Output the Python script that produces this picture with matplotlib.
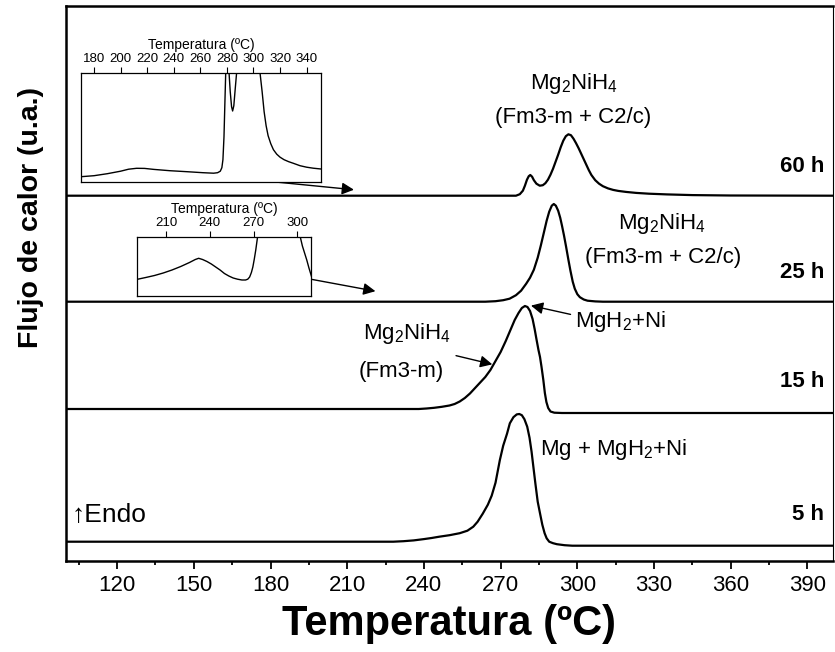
import numpy as np
import matplotlib
matplotlib.use('Agg')
import matplotlib.pyplot as plt
from matplotlib.ticker import MultipleLocator

plt.rcParams['font.family'] = ['Liberation Sans', 'DejaVu Sans']
plt.rcParams['mathtext.fontset'] = 'custom'
plt.rcParams['mathtext.rm'] = 'Liberation Sans'
plt.rcParams['mathtext.default'] = 'regular'

# DSC curves (temperature in C, heat flow in a.u. above each baseline)
t_5h = [100, 228, 232, 236, 240, 243, 246, 250, 254, 257, 259.3, 261, 263, 265, 266.5,
        268, 269.7, 271, 272.5, 273.6, 275, 276.3, 277.3, 278.3, 279.3, 280.4, 281.3,
        282.1, 282.8, 283.6, 284.5, 285.4, 286.3, 287.2, 288, 289, 290.5, 292, 295,
        298, 400]
q_5h = [0, 0, 0.5, 1.3, 2.6, 3.7, 5, 6.5, 8.5, 11, 15, 20, 28, 37, 46,
        59, 81.7, 96, 108, 118.4, 124.5, 127.3, 127.7, 126.5, 122.5, 115, 104,
        90, 75, 58, 40, 28.4, 17, 8.5, 3.4, 0, -1.5, -2.5, -3.5,
        -4, -4]

t_15h = [100, 238, 241, 244, 247, 250, 252, 254, 256, 258, 260, 262, 264, 266, 268,
         270, 272, 274, 275.5, 277, 278.3, 279.5, 280.5, 281.5, 282.5, 283.3, 284,
         284.8, 285.4, 286, 286.7, 287.3, 287.9, 288.6, 289.5, 291, 294, 400]
q_15h = [0, 0, 0.5, 1.2, 2.2, 3.5, 5, 7.5, 11, 15.5, 21, 26.5, 32, 39, 48,
         57, 68, 80, 89, 96, 101, 103, 102, 98, 90, 80, 70,
         59, 52, 42, 29, 16, 7, 1, -2.5, -3.7, -4, -4]

t_25h = [100, 264, 268, 271, 273.5, 276, 278, 280, 281.5, 283, 284.5, 285.7, 286.9,
         288, 289, 290, 290.8, 291.6, 292.5, 293.3, 294, 294.8, 295.6, 296.5, 297.3,
         298.2, 299, 300, 301, 302.5, 304, 307, 310, 400]
q_25h = [0, 0, 0.5, 1.5, 3, 6.5, 11, 18, 24, 32, 44, 56, 69,
         81, 90, 96, 97.7, 96, 91, 84, 76, 66, 55, 42, 31,
         20, 13, 7.5, 4.5, 2.2, 1, 0.3, 0, 0]

t_60h = [100, 276, 277.5, 278.7, 279.5, 280.3, 281, 281.6, 282.3, 283, 284, 285.3,
         286.5, 287.5, 288.5, 289.5, 290.5, 291.5, 292.5, 293.5, 294.5, 295.5, 296.5,
         297.5, 298.5, 299.5, 300.5, 301.5, 302.5, 303.5, 304.5, 305.5, 307, 308.5,
         310, 312, 314, 316, 319, 323, 328, 335, 345, 360, 400]
q_60h = [0, 0, 1.5, 5, 10, 16, 19.5, 20.7, 19, 15.5, 12, 10,
         10.5, 12.5, 16, 21, 27, 34, 41, 48.5, 55, 59.5, 61.4,
         60.5, 57, 52.5, 47.5, 42, 36.5, 31, 25.5, 20.7, 15.5, 12,
         9.5, 7.3, 5.8, 4.8, 3.8, 2.8, 2, 1.3, 0.6, 0.2, 0]

# zoomed insets
t_in60 = [170.2, 180, 190, 200, 206, 212, 218, 225, 237, 250, 262, 270, 273, 275,
          276.2, 277, 277.8, 278.5, 279.1, 280, 281, 281.6, 282.5, 283.5, 284.3,
          285.2, 286.2, 287.3, 288, 295, 303, 304.9, 306.5, 308, 309.5, 311, 313,
          315, 317.5, 320, 323, 326.5, 330, 335, 340, 345, 350.8]
q_in60 = [5, 6, 8, 10.5, 12.5, 13.4, 13.3, 12.3, 11, 10, 9, 8.5, 9, 10.5,
          14, 22, 45, 80, 109, 140, 140, 109, 90, 75, 70.7,
          76, 92, 109, 140, 160, 140, 109, 90, 70, 56, 46, 38,
          32, 27.5, 24.5, 22, 20, 18.4, 16, 14.5, 13.5, 12.7]

t_in25 = [190.2, 196, 202, 208, 214, 220, 226, 230, 232.3, 235, 238, 241, 244, 247,
          250, 253, 256, 259, 262, 264.5, 266, 267.3, 268.5, 269.5, 270.5, 271.5,
          272.6, 273.5, 280, 295, 300.5, 302, 303.5, 305, 306.5, 308, 309.8]
q_in25 = [16.7, 18.5, 20.5, 23, 26, 29.5, 33.5, 36.5, 37.7, 36.5, 34.5, 32, 29, 26,
          22.5, 20, 18, 16.8, 16, 16, 16.8, 19, 23.5, 29, 37, 46,
          57.7, 68, 100, 110, 70, 59.3, 50, 43, 36, 28, 19.3]

labels = ['5 h', '15 h', '25 h', '60 h']
offsets = [19.3, 152, 259.3, 365.3]

fig = plt.figure(figsize=(8.35, 6.52), dpi=100)
ax = fig.add_axes([66/835, 91/652, 767/835, 555/652])

curves = [(t_5h, q_5h), (t_15h, q_15h), (t_25h, q_25h), (t_60h, q_60h)]
for (t, q), off in zip(curves, offsets):
    ax.plot(t, np.array(q) + off, color='k', lw=1.6, solid_joinstyle='round')

ax.set_xlim(100, 400)
ax.set_ylim(0, 555)
ax.set_yticks([])
ax.xaxis.set_minor_locator(MultipleLocator(15))
ax.set_xticks(np.arange(120, 391, 30))
ax.tick_params(axis='x', which='major', length=6, width=1.3, labelsize=16, pad=4)
ax.tick_params(axis='x', which='minor', length=3, width=1.3)
for s in ['left', 'top', 'bottom']:
    ax.spines[s].set_linewidth(1.8)
ax.spines['right'].set_linewidth(0.8)
ax.set_xlabel('Temperatura (ºC)', fontsize=30, fontweight='bold', labelpad=6)
fig.text(31/835, 1 - 217/652, 'Flujo de calor (u.a.)', rotation=90, fontsize=20.5,
         fontweight='bold', ha='center', va='center')

# sample labels
for lab, y in zip(labels, [46, 179.3, 288, 395]):
    ax.text(396.5, y, lab, fontsize=16, fontweight='bold', ha='right', va='center')
ax.text(102, 46, '↑Endo', fontsize=19, ha='left', va='center',
        family=['Liberation Sans', 'DejaVu Sans'])

# phase annotations
fs = 16
ax.text(298.7, 477, 'Mg$_2$NiH$_4$', fontsize=fs, ha='center', va='center')
ax.text(298.3, 444, '(Fm3-m + C2/c)', fontsize=fs, ha='center', va='center')
ax.text(333, 338, 'Mg$_2$NiH$_4$', fontsize=fs, ha='center', va='center')
ax.text(333.5, 304, '(Fm3-m + C2/c)', fontsize=fs, ha='center', va='center')
ax.text(233.2, 228, 'Mg$_2$NiH$_4$', fontsize=fs, ha='center', va='center')
ax.text(231.3, 189.3, '(Fm3-m)', fontsize=fs, ha='center', va='center')
ax.text(299.1, 239.3, 'MgH$_2$+Ni', fontsize=fs, ha='left', va='center')
ax.text(285.4, 111.7, 'Mg + MgH$_2$+Ni', fontsize=fs, ha='left', va='center')

arr = dict(arrowstyle='-|>', color='k', lw=1.0, mutation_scale=18)
ax.annotate('', xy=(267.8, 196), xytext=(251.5, 206), arrowprops=arr)
ax.annotate('', xy=(280.8, 256), xytext=(298.4, 246), arrowprops=arr)
ax.annotate('', xy=(213.7, 371), xytext=(127.65, 392.7), arrowprops=arr)
ax.annotate('', xy=(222.1, 269.3), xytext=(151.7, 302.7), arrowprops=arr)

# insets
def inset(rect, t, q, xlim, ticks, ymax):
    a = fig.add_axes(rect)
    a.plot(t, q, color='k', lw=1.0)
    a.set_xlim(*xlim)
    a.set_ylim(0, ymax)
    a.set_yticks([])
    a.set_xticks(ticks)
    a.xaxis.tick_top()
    a.xaxis.set_label_position('top')
    a.tick_params(axis='x', length=4, width=0.8, labelsize=9.5, pad=1.5)
    a.set_xlabel('Temperatura (ºC)', fontsize=10, labelpad=3)
    for s in a.spines.values():
        s.set_linewidth(0.9)
    return a

inset([81/835, 1 - 181.7/652, 240/835, 109/652], t_in60, q_in60,
      (170.2, 350.8), np.arange(180, 341, 20), 109)
inset([137.3/835, 1 - 296/652, 173.4/835, 59.3/652], t_in25, q_in25,
      (190.2, 309.2), [210, 240, 270, 300], 59.3)

fig.savefig('out.png', dpi=100)
